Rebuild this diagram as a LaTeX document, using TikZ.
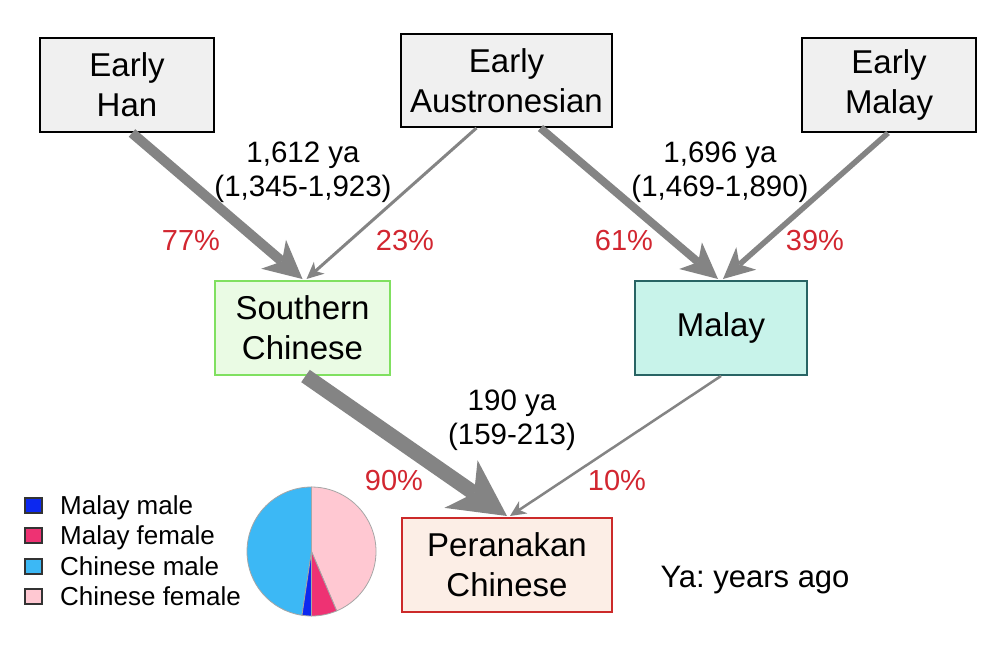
\documentclass[tikz,border=0pt]{standalone}
\usepackage{fontspec}
\setmainfont{Liberation Sans}
\usetikzlibrary{arrows.meta}
\frenchspacing
\definecolor{arrgray}{RGB}{132,132,132}
\definecolor{pctred}{RGB}{210,38,48}
\definecolor{boxgray}{RGB}{240,240,240}
\definecolor{scfill}{RGB}{234,251,228}
\definecolor{scline}{RGB}{128,224,96}
\definecolor{mafill}{RGB}{200,243,234}
\definecolor{maline}{RGB}{40,100,100}
\definecolor{pefill}{RGB}{252,238,230}
\definecolor{peline}{RGB}{204,42,42}
\definecolor{cmm}{RGB}{12,40,240}
\definecolor{cmf}{RGB}{238,50,115}
\definecolor{ccm}{RGB}{60,184,245}
\definecolor{ccf}{RGB}{255,200,210}
\tikzset{
  box/.style={draw, line width=2pt, minimum height=94pt, align=center, inner sep=0pt,
    font=\fontsize{33}{40}\selectfont},
  lab/.style={align=center, inner sep=0pt, font=\fontsize{29.5}{34}\selectfont},
  pct/.style={anchor=base, inner sep=0pt, text=pctred, font=\fontsize{29}{34}\selectfont},
  legt/.style={anchor=base west, inner sep=0pt, font=\fontsize{26}{30}\selectfont},
  sq/.style={draw=black!80, line width=1.5pt, minimum width=17pt, minimum height=15pt, inner sep=0pt},
  arr/.style={draw=arrgray, color=arrgray},
  pieline/.style={draw=black!35, line width=0.8pt}
}
\begin{document}
\begin{tikzpicture}[x=1pt,y=1pt]
\useasboundingbox[fill=white] (0,0) rectangle (987,-647);

% boxes
\node[box, fill=boxgray, minimum width=174pt] (han) at (127,-85) {Early\\Han};
\node[box, fill=boxgray, minimum width=211pt, minimum height=93pt] (aus) at (506.5,-80.5) {Early\\Austronesian};
\node[box, fill=boxgray, minimum width=174pt] (emal) at (889,-85) {Early\\Malay};
\node[box, fill=scfill, draw=scline, minimum width=175pt] (sc) at (302.5,-328) {Southern\\Chinese};
\node[box, fill=mafill, draw=maline, minimum width=172pt] (mal) at (721,-328) {Malay};
\node[box, fill=pefill, draw=peline, minimum width=210pt] (per) at (507,-565) {Peranakan\\Chinese};

% arrows
\draw[arr, line width=10pt, -{Stealth[length=38pt,width=38pt,inset=11pt,line width=0pt]}]
  ([xshift=5pt]han.south) -- ([yshift=1pt]sc.north);
\draw[arr, line width=3pt, -{Stealth[length=17pt,width=16pt,inset=5pt,line width=0pt]}]
  ([xshift=-30pt]aus.south) -- ([xshift=4pt,yshift=1pt]sc.north);
\draw[arr, line width=8pt, -{Stealth[length=36pt,width=35pt,inset=10pt,line width=0pt]}]
  ([xshift=34pt]aus.south) -- ([xshift=-3pt,yshift=1pt]mal.north);
\draw[arr, line width=5.5pt, -{Stealth[length=31pt,width=30pt,inset=9pt,line width=0pt]}]
  ([xshift=-1pt]emal.south) -- ([xshift=2pt,yshift=1pt]mal.north);
\draw[arr, line width=15pt, -{Stealth[length=56pt,width=58pt,inset=16pt,line width=0pt]}]
  ([xshift=3pt]sc.south) -- ([yshift=1pt]per.north);
\draw[arr, line width=2.5pt, -{Stealth[length=16pt,width=15pt,inset=5pt,line width=0pt]}]
  (mal.south) -- ([xshift=3pt,yshift=1pt]per.north);

% time labels
\node[lab] (t1) at (303,-172.5) {1,612 ya\\(1,345-1,923)};
\node[lab] (t2) at (720,-172.5) {1,696 ya\\(1,469-1,890)};
\node[lab] (t3) at (512,-420) {190 ya\\(159-213)};

% percentages
\node[pct] (p77) at (191,-250) {77\%};
\node[pct] (p23) at (405,-250) {23\%};
\node[pct] (p61) at (624,-250) {61\%};
\node[pct] (p39) at (815,-250) {39\%};
\node[pct] (p90) at (394,-490) {90\%};
\node[pct] (p10) at (617,-490) {10\%};

\node[anchor=base, inner sep=0pt, font=\fontsize{31}{36}\selectfont] (ya) at (755,-587) {Ya: years ago};

% legend
\node[sq, fill=cmm] (lg1) at (33.5,-505.5) {};
\node[sq, fill=cmf] (lg2) at (33.5,-535.5) {};
\node[sq, fill=ccm] (lg3) at (33.5,-566.5) {};
\node[sq, fill=ccf] (lg4) at (33.5,-596.5) {};
\node[legt] (lt1) at (60,-514) {Malay male};
\node[legt] (lt2) at (60,-544) {Malay female};
\node[legt] (lt3) at (60,-575) {Chinese male};
\node[legt] (lt4) at (60,-605) {Chinese female};

% pie
\coordinate (pc) at (311.5,-551.5);
\filldraw[pieline, fill=ccf] (pc) -- ++(-67:64.5) arc[start angle=-67, end angle=90, radius=64.5] -- cycle;
\filldraw[pieline, fill=ccm] (pc) -- ++(90:64.5) arc[start angle=90, end angle=261.5, radius=64.5] -- cycle;
\filldraw[pieline, fill=cmm] (pc) -- ++(261.5:64.5) arc[start angle=261.5, end angle=270, radius=64.5] -- cycle;
\filldraw[pieline, fill=cmf] (pc) -- ++(-90:64.5) arc[start angle=-90, end angle=-67, radius=64.5] -- cycle;
\end{tikzpicture}
\end{document}
